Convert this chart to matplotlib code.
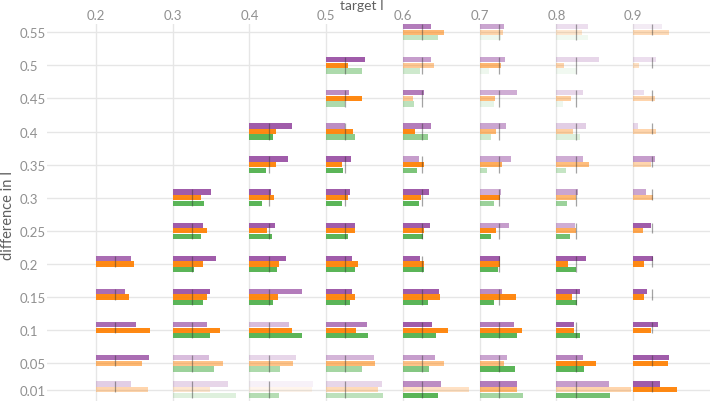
import matplotlib.pyplot as plt
from matplotlib.colors import to_rgba

plt.rcParams['font.family'] = ['Lato', 'DejaVu Sans']

targets = [0.2, 0.3, 0.4, 0.5, 0.6, 0.7, 0.8, 0.9]
diffs = [0.01, 0.05, 0.1, 0.15, 0.2, 0.25, 0.3, 0.35, 0.4, 0.45, 0.5, 0.55]
diff_labels = ['0.01', '0.05', '0.1', '0.15', '0.2', '0.25', '0.3', '0.35',
               '0.4', '0.45', '0.5', '0.55']
target_labels = ['0.2', '0.3', '0.4', '0.5', '0.6', '0.7', '0.8', '0.9']

# error for each target, one value per difference (from 0.01 upwards)
purple_err = {
    0.2: [0.045, 0.069, 0.052, 0.038, 0.046],
    0.3: [0.072, 0.047, 0.045, 0.048, 0.057, 0.039, 0.050],
    0.4: [0.083, 0.060, 0.051, 0.068, 0.048, 0.033, 0.028, 0.050, 0.056],
    0.5: [0.072, 0.062, 0.053, 0.034, 0.034, 0.038, 0.031, 0.032, 0.024, 0.030, 0.051],
    0.6: [0.049, 0.042, 0.038, 0.047, 0.022, 0.035, 0.034, 0.021, 0.037, 0.028, 0.036, 0.037],
    0.7: [0.049, 0.035, 0.045, 0.029, 0.027, 0.038, 0.028, 0.041, 0.034, 0.049, 0.033, 0.031],
    0.8: [0.068, 0.034, 0.023, 0.030, 0.038, 0.024, 0.028, 0.034, 0.038, 0.034, 0.055, 0.041],
    0.9: [0.035, 0.047, 0.032, 0.018, 0.026, 0.023, 0.017, 0.028, 0.006, 0.014, 0.029, 0.037],
}
orange_err = {
    0.2: [0.068, 0.060, 0.071, 0.043, 0.049],
    0.3: [0.049, 0.065, 0.061, 0.045, 0.040, 0.045, 0.037],
    0.4: [0.081, 0.057, 0.055, 0.037, 0.039, 0.023, 0.032, 0.035, 0.034],
    0.5: [0.067, 0.064, 0.039, 0.038, 0.041, 0.037, 0.029, 0.020, 0.035, 0.047, 0.028],
    0.6: [0.086, 0.053, 0.059, 0.048, 0.027, 0.028, 0.024, 0.028, 0.015, 0.013, 0.041, 0.054],
    0.7: [0.049, 0.031, 0.055, 0.047, 0.027, 0.021, 0.026, 0.029, 0.021, 0.020, 0.028, 0.030],
    0.8: [0.097, 0.051, 0.023, 0.020, 0.015, 0.026, 0.026, 0.043, 0.021, 0.019, 0.010, 0.033],
    0.9: [0.057, 0.045, 0.023, 0.014, 0.014, 0.013, 0.026, 0.023, 0.030, 0.028, 0.008, 0.046],
}
green_err = {
    0.3: [0.083, 0.054, 0.049, 0.039, 0.028, 0.037, 0.041],
    0.4: [0.038, 0.040, 0.069, 0.030, 0.036, 0.029, 0.016, 0.022, 0.031],
    0.5: [0.074, 0.047, 0.055, 0.031, 0.038, 0.028, 0.021, 0.022, 0.037, 0.025, 0.046],
    0.6: [0.045, 0.034, 0.043, 0.033, 0.027, 0.026, 0.021, 0.018, 0.033, 0.014, 0.022, 0.045],
    0.7: [0.056, 0.046, 0.048, 0.019, 0.024, 0.015, 0.018, 0.009, 0.015, 0.018, 0.012, 0.028],
    0.8: [0.070, 0.036, 0.030, 0.027, 0.025, 0.017, 0.014, 0.012, 0.030, 0.009, 0.025, 0.041],
}

# opacity of each bar (same layout as the errors)
purple_alpha = {
    0.2: [0.3, 0.9, 0.9, 0.9, 0.9],
    0.3: [0.25, 0.4, 0.75, 1, 1, 1, 1],
    0.4: [0.08, 0.25, 0.4, 0.8, 1, 1, 1, 1, 1],
    0.5: [0.25, 0.45, 0.8, 1, 1, 1, 1, 1, 0.7, 0.7, 1],
    0.6: [0.7, 0.6, 1, 1, 1, 1, 1, 0.6, 0.8, 0.8, 0.6, 0.8],
    0.7: [0.8, 0.55, 0.8, 0.7, 1, 0.6, 0.5, 0.55, 0.55, 0.5, 0.55, 0.55],
    0.8: [0.6, 0.75, 1, 1, 1, 0.5, 0.55, 0.5, 0.3, 0.25, 0.25, 0.2],
    0.9: [1, 1, 1, 1, 1, 1, 0.55, 0.6, 0.25, 0.2, 0.2, 0.12],
}
orange_alpha = {
    0.2: [0.35, 0.6, 1, 1, 1],
    0.3: [0.2, 0.5, 1, 1, 1, 1, 1],
    0.4: [0.08, 0.5, 1, 1, 1, 1, 1, 1, 1],
    0.5: [0.3, 0.6, 1, 1, 1, 1, 1, 1, 1, 1, 1],
    0.6: [0.25, 0.5, 1, 1, 1, 1, 1, 1, 1, 0.45, 0.45, 0.6],
    0.7: [0.6, 0.55, 1, 1, 1, 1, 1, 0.7, 0.6, 0.55, 0.6, 0.35],
    0.8: [0.35, 1, 1, 1, 1, 0.7, 0.6, 0.55, 0.4, 0.4, 0.35, 0.2],
    0.9: [1, 1, 1, 1, 1, 0.75, 0.5, 0.35, 0.35, 0.35, 0.25, 0.3],
}
green_alpha = {
    0.3: [0.2, 0.6, 1, 1, 1, 1, 1],
    0.4: [0.45, 0.5, 1, 1, 1, 1, 1, 1, 1],
    0.5: [0.4, 0.55, 1, 1, 1, 1, 1, 1, 0.7, 0.5, 0.5],
    0.6: [1, 0.75, 1, 1, 1, 1, 1, 0.8, 0.65, 0.4, 0.3, 0.35],
    0.7: [0.55, 1, 1, 1, 1, 1, 0.6, 0.4, 0.3, 0.15, 0.1, 0.1],
    0.8: [0.85, 1, 1, 1, 1, 0.85, 0.6, 0.35, 0.2, 0.1, 0.08, 0.08],
}

threshold = 0.025
bar_h = 0.008
step = 0.0085

fig = plt.figure(figsize=(7.1, 4.02), dpi=100)
ax = fig.add_axes([0.066, 0.0, 0.934, 0.938])

series = [
    (purple_err, purple_alpha, '#984ea3', step),
    (orange_err, orange_alpha, '#ff7f00', 0.0),
    (green_err, green_alpha, '#4daf4a', -step),
]

for t in targets:
    n = len(purple_err[t])
    ys = diffs[:n]
    for errs, alphas, color, off in series:
        if t not in errs:
            continue
        cols = [to_rgba(color, 0.92 * a) for a in alphas[t]]
        ax.barh([y + off for y in ys], errs[t], left=t, height=bar_h,
                color=cols, linewidth=0, zorder=2)
    low = -step if t in green_err else 0.0
    ax.vlines([t + threshold] * n,
              [y + low - bar_h / 2 for y in ys],
              [y + step + bar_h / 2 for y in ys],
              colors='#333333', alpha=0.45, linewidth=0.9, zorder=3)

ax.set_xlim(0.136, 1.0)
ax.set_ylim(-0.007, 0.5625)
ax.set_xticks(targets)
ax.set_xticklabels(target_labels)
ax.set_yticks(diffs)
ax.set_yticklabels(diff_labels)
ax.xaxis.tick_top()
ax.tick_params(axis='x', length=0, pad=2, labelsize=9.5, labelcolor='#909090')
ax.tick_params(axis='y', length=0, pad=19.5, labelsize=9.5, labelcolor='#909090')
for lab in ax.get_yticklabels():
    lab.set_horizontalalignment('left')
ax.grid(True, color='#e6e6e6', linewidth=1.0, zorder=0)
ax.set_axisbelow(True)
for s in ax.spines.values():
    s.set_visible(False)

fig.text(0.51, 0.999, 'target I', ha='center', va='top',
         fontsize=10, color='#606060')
fig.text(0.011, 0.465, 'difference in I', ha='center', va='center',
         rotation=90, fontsize=10.5, color='#606060')

fig.savefig('out.png', dpi=100)
